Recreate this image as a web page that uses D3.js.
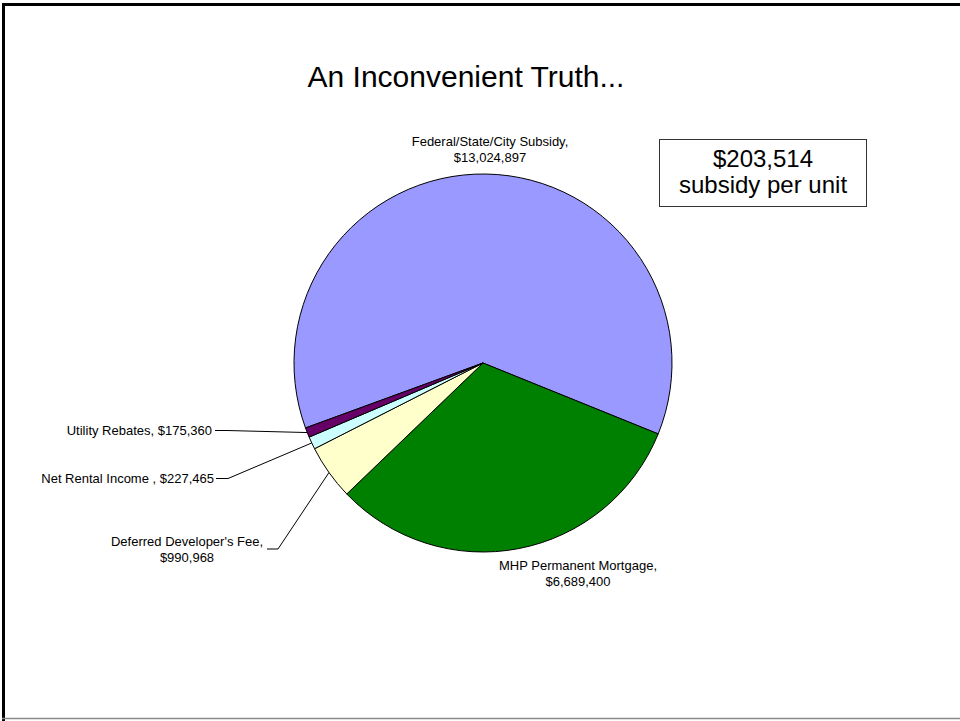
<!DOCTYPE html>
<html>
<head>
<meta charset="utf-8">
<script src="https://cdn.jsdelivr.net/npm/d3@7"></script>
<style>
  html, body { margin: 0; padding: 0; background: #fff; }
  svg { display: block; font-family: "Liberation Sans", Arial, sans-serif; }
</style>
</head>
<body>
<svg id="chart" width="960" height="721"></svg>
<script>
// Funding sources for the project, in clockwise order
const categories = [
  "Federal/State/City Subsidy",
  "MHP Permanent Mortgage",
  "Deferred Developer's Fee",
  "Net Rental Income ",
  "Utility Rebates"
];
const values = [13024897, 6689400, 990968, 227465, 175360];
const sliceColors = ["#9999FF", "#008000", "#FFFFCC", "#CCFFFF", "#660066"];
const titleText = "An Inconvenient Truth...";
const calloutLines = ["$203,514", "subsidy per unit"];

const svg = d3.select("#chart");
const W = 960, H = 721;
const fmt = d3.format("$,");

// slide frame
svg.append("line").attr("x1", 2).attr("x2", W).attr("y1", 4.5).attr("y2", 4.5)
  .attr("stroke", "#000").attr("stroke-width", 3);
svg.append("line").attr("x1", 3.5).attr("x2", 3.5).attr("y1", 3).attr("y2", H)
  .attr("stroke", "#000").attr("stroke-width", 3);
svg.append("line").attr("x1", 2).attr("x2", W).attr("y1", 718.5).attr("y2", 718.5)
  .attr("stroke", "#8a8a8a").attr("stroke-width", 1.5);

// title
svg.append("text").attr("x", 466).attr("y", 87).attr("text-anchor", "middle")
  .attr("font-size", 30).attr("fill", "#000").text(titleText);

// pie
const cx = 483, cy = 363, R = 189;
const start = -110.1 * Math.PI / 180;
const pie = d3.pie().sort(null).value(d => d.value)
  .startAngle(start).endAngle(start + 2 * Math.PI);
const data = categories.map((c, i) => ({ name: c, value: values[i], color: sliceColors[i] }));
const arcs = pie(data);
const arc = d3.arc().innerRadius(0).outerRadius(R);

const g = svg.append("g").attr("transform", `translate(${cx},${cy})`);
g.selectAll("path").data(arcs).join("path")
  .attr("d", arc)
  .attr("fill", d => d.data.color)
  .attr("stroke", "#000")
  .attr("stroke-width", 1)
  .attr("stroke-linejoin", "round");

// point on the rim at a slice's mid angle
function rimPoint(a) {
  const m = (a.startAngle + a.endAngle) / 2;
  return [cx + R * Math.sin(m), cy - R * Math.cos(m)];
}

// label placement: lines of text, anchor, and optional leader elbow
const labelLayout = [
  { x: 490, y: 146, anchor: "middle", twoLine: true },
  { x: 578, y: 570, anchor: "middle", twoLine: true },
  { x: 187, y: 546, anchor: "middle", twoLine: true, leader: { y: 549, x0: 267, x1: 278 } },
  { x: 214, y: 482.5, anchor: "end", twoLine: false, leader: { y: 478.5, x0: 216, x1: 228 } },
  { x: 212, y: 434.5, anchor: "end", twoLine: false, leader: { y: 430.5, x0: 215, x1: 227 } }
];

const labels = svg.append("g").attr("font-size", 13).attr("fill", "#000");
arcs.forEach((a, i) => {
  const L = labelLayout[i];
  const name = a.data.name, val = fmt(a.data.value);
  const t = labels.append("text").attr("text-anchor", L.anchor);
  if (L.twoLine) {
    t.append("tspan").attr("x", L.x).attr("y", L.y).text(name + ",");
    t.append("tspan").attr("x", L.x).attr("y", L.y + 15.5).text(val);
  } else {
    t.attr("x", L.x).attr("y", L.y).text(name + ", " + val);
  }
  if (L.leader) {
    const p = rimPoint(a);
    svg.append("polyline")
      .attr("points", [[L.leader.x0, L.leader.y], [L.leader.x1, L.leader.y], p].map(q => q.join(",")).join(" "))
      .attr("fill", "none").attr("stroke", "#000").attr("stroke-width", 1);
  }
});

// callout box
const box = svg.append("g");
box.append("rect").attr("x", 659.5).attr("y", 139.5).attr("width", 207).attr("height", 67)
  .attr("fill", "#fff").attr("stroke", "#333").attr("stroke-width", 1);
box.append("text").attr("x", 763).attr("y", 167).attr("text-anchor", "middle")
  .attr("font-size", 24).text(calloutLines[0]);
box.append("text").attr("x", 763).attr("y", 193).attr("text-anchor", "middle")
  .attr("font-size", 24).text(calloutLines[1]);
</script>
</body>
</html>
